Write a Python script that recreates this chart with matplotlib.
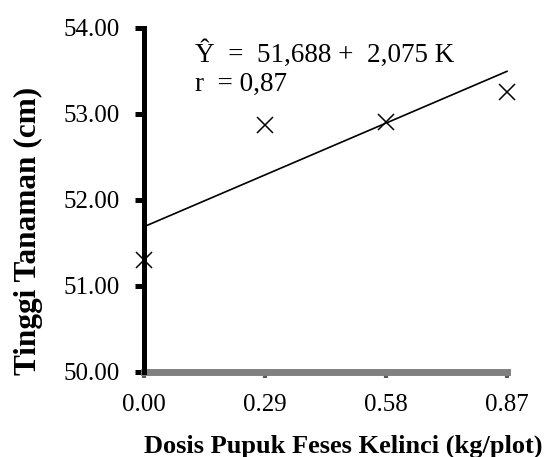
import numpy as np
import matplotlib.pyplot as plt

plt.rcParams['font.family'] = ['Liberation Serif', 'DejaVu Serif']

# dosis pupuk (kg/plot) dan tinggi tanaman (cm)
dosis = [0.00, 0.29, 0.58, 0.87]
tinggi = [51.30, 52.87, 52.90, 53.25]
x_labels = ['0.00', '0.29', '0.58', '0.87']
y_ticks = [50, 51, 52, 53, 54]
y_labels = ['50.00', '51.00', '52.00', '53.00', '54.00']

# regresi linear
a, b = 51.688, 2.075

W, H = 544, 457
fig = plt.figure(figsize=(W / 100, H / 100), dpi=100)
ax = fig.add_axes([144 / W, 1 - 372 / H, 363 / W, 344.3 / H])

ax.plot(dosis, tinggi, linestyle='none', marker='x', color='black',
        markersize=12, markeredgewidth=1.1, clip_on=False, zorder=5)
xl = np.array([dosis[0], dosis[-1]])
ax.plot(xl, a + b * xl, color='black', linewidth=1.2, clip_on=False)

ax.set_xlim(0, 0.87)
ax.set_ylim(50, 54)
ax.set_xticks(dosis)
ax.set_xticklabels(x_labels)
ax.set_yticks(y_ticks)
ax.set_yticklabels(y_labels)

for s in ['top', 'right']:
    ax.spines[s].set_visible(False)
ax.spines['left'].set_linewidth(3.6)
ax.spines['left'].set_color('black')
ax.spines['bottom'].set_linewidth(5)
ax.spines['bottom'].set_color('#808080')
ax.spines['left'].set_zorder(3)

ax.tick_params(axis='y', direction='out', length=6.5, width=3.6, color='black',
               labelsize=18, pad=11)
ax.tick_params(axis='x', direction='out', length=4.5, width=3, color='#595959',
               labelsize=18, pad=11)

fig.text(343 / W, 4 / H, 'Dosis Pupuk Feses Kelinci (kg/plot)', fontsize=19,
         fontweight='bold', ha='center', va='baseline')
fig.text(28 / W, 1 - 231 / H, 'Tinggi Tanaman (cm)', fontsize=22.5,
         fontweight='bold', rotation=90, ha='center', va='center')

ax.text(0.122, 53.60, 'Ŷ  =  51,688 +  2,075 K', fontsize=19.5, va='baseline')
ax.text(0.122, 53.26, 'r  = 0,87', fontsize=19.5, va='baseline')

fig.savefig('out.png', dpi=100)
